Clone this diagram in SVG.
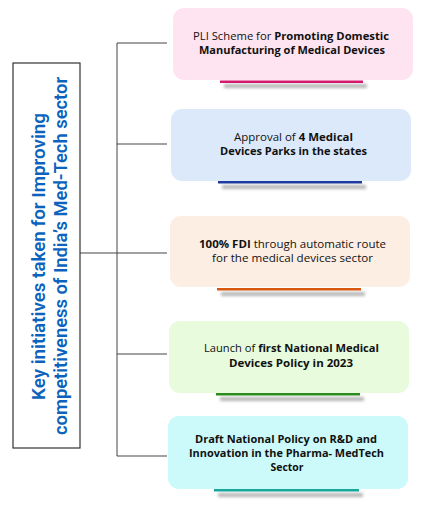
<svg xmlns="http://www.w3.org/2000/svg" width="436" height="507" viewBox="0 0 436 507">
<defs>
<filter id="sh" x="-10%" y="-200%" width="120%" height="500%">
<feGaussianBlur stdDeviation="1.8"/>
</filter>
</defs>
<style>
.t{font-family:"Open Sans","Liberation Sans",sans-serif;font-size:11.2px;fill:#111;text-anchor:middle}
.b{font-weight:700}
.n{font-weight:400}
.v{font-family:Roboto,"Liberation Sans",sans-serif;font-size:19px;font-weight:600;fill:#0b63bd;text-anchor:middle}
.c{stroke:#444;stroke-width:1;fill:none}
.shd{fill:#999;opacity:0.7;filter:url(#sh)}
</style>
<rect width="436" height="507" fill="#ffffff"/>
<g id="connectors">
<path class="c" d="M80 253 H117 M117 43 V456 M117 43 H167 M117 144 H167 M117 253 H167 M117 354 H167 M117 456 H167"/>
</g>
<g id="title">
<rect x="13" y="63" width="67" height="385" fill="#fff" stroke="#333" stroke-width="1.2"/>
<text class="v" transform="translate(45,256.5) rotate(-90)" textLength="287" lengthAdjust="spacingAndGlyphs">Key initiatives taken for Improving</text>
<text class="v" transform="translate(66.7,256) rotate(-90)" textLength="358" lengthAdjust="spacingAndGlyphs">competitiveness of India’s Med-Tech sector</text>
</g>
<g id="node1">
<rect x="173" y="8" width="240" height="72" rx="11" fill="#fde4f0"/>
<rect class="shd" x="224" y="84" width="143" height="4"/>
<rect x="220" y="80.5" width="143" height="2.5" fill="#d6186e"/>
<text class="t" x="291" y="40" textLength="196" lengthAdjust="spacingAndGlyphs"><tspan class="n">PLI Scheme for </tspan><tspan class="b">Promoting Domestic</tspan></text>
<text class="t b" x="292" y="54" textLength="186" lengthAdjust="spacingAndGlyphs">Manufacturing of Medical Devices</text>
</g>
<g id="node2">
<rect x="171" y="109" width="240" height="72" rx="11" fill="#dbe9fb"/>
<rect class="shd" x="222" y="185" width="144" height="4"/>
<rect x="218" y="181" width="144" height="2.5" fill="#1f3a9e"/>
<text class="t" x="293.5" y="141" textLength="119" lengthAdjust="spacingAndGlyphs"><tspan class="n">Approval of </tspan><tspan class="b">4 Medical</tspan></text>
<text class="t b" x="293.5" y="155" textLength="147" lengthAdjust="spacingAndGlyphs">Devices Parks in the states</text>
</g>
<g id="node3">
<rect x="170" y="216" width="240" height="71" rx="11" fill="#fdeee3"/>
<rect class="shd" x="221" y="292" width="144" height="4"/>
<rect x="217" y="288" width="144" height="2.5" fill="#d9580f"/>
<text class="t" x="292.5" y="248" textLength="187" lengthAdjust="spacingAndGlyphs"><tspan class="b">100% FDI</tspan><tspan class="n"> through automatic route</tspan></text>
<text class="t n" x="292.5" y="262" textLength="161" lengthAdjust="spacingAndGlyphs">for the medical devices sector</text>
</g>
<g id="node4">
<rect x="169" y="321" width="240" height="72" rx="11" fill="#e8fbdc"/>
<rect class="shd" x="220" y="397" width="144" height="4"/>
<rect x="216" y="393" width="144" height="2.5" fill="#2e8b1e"/>
<text class="t" x="291.5" y="352" textLength="175" lengthAdjust="spacingAndGlyphs"><tspan class="n">Launch of </tspan><tspan class="b">first National Medical</tspan></text>
<text class="t b" x="291" y="366.5" textLength="124" lengthAdjust="spacingAndGlyphs">Devices Policy in 2023</text>
</g>
<g id="node5">
<rect x="168" y="416" width="240" height="73" rx="11" fill="#ccfafa"/>
<rect class="shd" x="218" y="493" width="145" height="4"/>
<rect x="214" y="489" width="145" height="2.5" fill="#16a89a"/>
<text class="t b" x="286" y="443" textLength="182" lengthAdjust="spacingAndGlyphs">Draft National Policy on R&amp;D and</text>
<text class="t b" x="286.5" y="457" textLength="195" lengthAdjust="spacingAndGlyphs">Innovation in the Pharma- MedTech</text>
<text class="t b" x="287" y="471" textLength="33" lengthAdjust="spacingAndGlyphs">Sector</text>
</g>
</svg>
